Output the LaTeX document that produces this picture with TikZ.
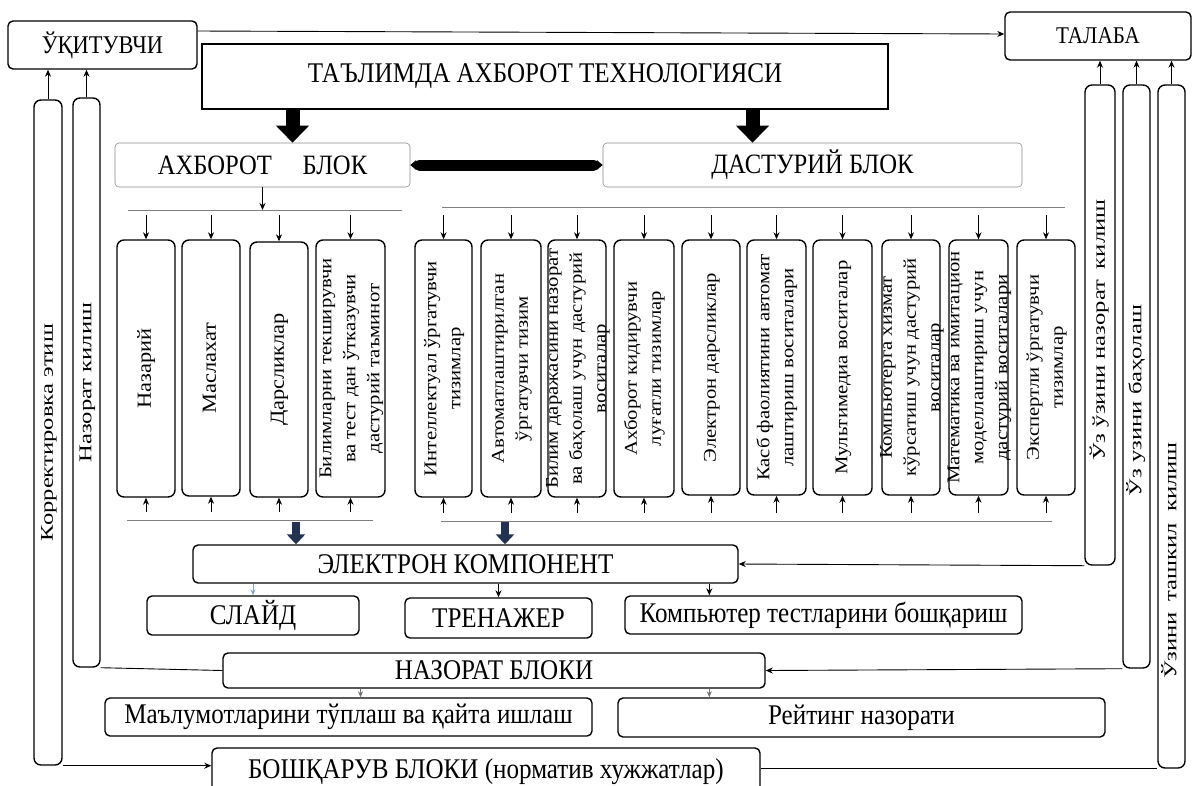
\documentclass[tikz,border=0pt]{standalone}
\usepackage{fontspec}
\setmainfont{Liberation Serif}
\newfontfamily\horfont[FakeStretch=0.88]{Liberation Serif}
\newfontfamily\vertfont[FakeStretch=1.15]{Liberation Serif}
\newfontfamily\vertbigfont[FakeStretch=1.12]{Liberation Serif}
\newfontfamily\sidefont[FakeStretch=1.37]{Liberation Serif}
\usepackage{graphicx}
\usetikzlibrary{arrows.meta,calc}
\definecolor{navyarr}{RGB}{35,50,80}
\definecolor{paleblue}{RGB}{140,165,200}
\newcommand\mkbox[7]{%
  \pgfmathsetmacro\mbW{#5-#3}%
  \pgfmathsetmacro\mbH{#6-#4}%
  \pgfmathsetmacro\mbX{(#3+#5)/2}%
  \pgfmathsetmacro\mbY{(#4+#6)/2}%
  \node[#1,minimum width=\mbW pt,minimum height=\mbH pt] (#2) at (\mbX,\mbY) {#7};}
\newcommand\vtext[2][0pt]{\makebox[0pt]{\raisebox{#1}[0pt][0pt]{\raisebox{-.5\height}{\rotatebox{90}{\begin{tabular}{@{}c@{}}#2\end{tabular}}}}}}
\tikzset{
  rbox/.style={draw,line width=1.4pt,rounded corners=5pt,inner sep=0pt,font=\horfont\fontsize{28.5}{30}\selectfont},
  gbox/.style={draw=black!45,line width=0.6pt,rounded corners=4pt,inner sep=0pt,font=\horfont\fontsize{28}{30}\selectfont},
  tbox/.style={draw,line width=2.2pt,inner sep=0pt,font=\horfont\fontsize{28.5}{30}\selectfont},
  vbox/.style={draw,line width=1.4pt,rounded corners=7pt,inner sep=0pt,font=\vertfont\fontsize{18}{24}\selectfont},
  vbigbox/.style={vbox,font=\vertbigfont\fontsize{20}{24}\selectfont},
  sidebox/.style={vbox,font=\sidefont\fontsize{18}{24}\selectfont},
  arr/.style={line width=0.9pt,-{Stealth[length=7pt,width=6pt]}},
  faint/.style={line width=0.8pt,draw=#1,-{Stealth[length=6pt,width=5pt]}},
  bus/.style={draw=black!50,line width=0.9pt},
  fat/.style={line width=14pt,-{Triangle[length=17pt,width=32pt]}},
  mid/.style={line width=8pt,draw=navyarr,-{Triangle[length=10pt,width=18pt]}},
  link/.style={line width=0.9pt}
}
\begin{document}
\begin{tikzpicture}[x=1pt,y=-1pt]
\useasboundingbox (0,0) rectangle (1193,785);
% top boxes
\mkbox{rbox,font=\horfont\fontsize{25.5}{28}\selectfont}{uk}{8}{21}{197}{69}{ЎҚИТУВЧИ}
\mkbox{rbox,font=\horfont\fontsize{24}{26}\selectfont}{tal}{1005}{12}{1191}{60}{ТАЛАБА}
\mkbox{tbox}{ti}{202}{44}{888}{109}{ТАЪЛИМДА АХБОРОТ ТЕХНОЛОГИЯСИ}
\mkbox{gbox}{ax}{115}{143}{410}{187}{АХБОРОТ\hspace{1.1em}БЛОК}
\mkbox{gbox}{ds}{603}{143}{1022}{187}{ДАСТУРИЙ БЛОК}
% left group
\mkbox{vbigbox}{L1}{117}{240}{175}{497}{\vtext{Назарий}}
\mkbox{vbigbox}{L2}{182}{240}{240}{496}{\vtext{Маслахат}}
\mkbox{vbigbox}{L3}{250}{242}{308}{497}{\vtext{Дарсликлар}}
\mkbox{vbox}{L4}{316}{240}{385}{497}{\vtext{Билимларни текширувчи\\ва тест дан ўтказувчи\\дастурий таъминот}}
% right group
\mkbox{vbox}{R1}{415}{240}{472}{497}{\vtext{Интеллектуал ўргатувчи\\тизимлар}}
\mkbox{vbox}{R2}{481}{240}{541}{497}{\vtext{Автоматлаштирилган\\ўргатувчи тизим}}
\mkbox{vbox}{R3}{548}{240}{606}{497}{\vtext{Билим даражасини назорат\\ва баҳолаш учун дастурий\\воситалар}}
\mkbox{vbox}{R4}{614}{240}{674}{497}{\vtext{Ахборот кидирувчи\\луғатли тизимлар}}
\mkbox{vbox}{R5}{682}{240}{740}{495}{\vtext{Электрон дарсликлар}}
\mkbox{vbox}{R6}{747}{240}{806}{495}{\vtext{Касб фаолиятини автомат\\лаштириш воситалари}}
\mkbox{vbox}{R7}{813}{240}{872}{495}{\vtext{Мультимедиа воситалар}}
\mkbox{vbox}{R8}{882}{240}{940}{495}{\vtext{Компьютерга хизмат\\кўрсатиш учун дастурий\\воситалар}}
\mkbox{vbox}{R9}{949}{240}{1008}{495}{\vtext{Математика ва имитацион\\моделлаштириш учун\\дастурий воситалари}}
\mkbox{vbox}{R10}{1017}{240}{1075}{495}{\vtext{Экспертли ўргатувчи\\тизимлар}}
% side boxes
\mkbox{sidebox}{kor}{34}{100}{62}{765}{\vtext{Корректировка этиш}}
\mkbox{sidebox}{nk}{73}{98}{100}{667}{\vtext{Назорат килиш}}
\mkbox{sidebox}{uz1}{1085}{85}{1115}{565}{\vtext[-5pt]{Ўз ўзини назорат\hspace{0.6em}килиш}}
\mkbox{sidebox}{uz2}{1123}{85}{1150}{668}{\vtext[-24pt]{Ўз узини баҳолаш}}
\mkbox{sidebox}{uz3}{1158}{85}{1185}{768}{\vtext[-134pt]{Ўзини\hspace{0.6em}ташкил\hspace{0.6em}килиш}}
% lower boxes
\mkbox{rbox}{el}{193}{545}{738}{583}{ЭЛЕКТРОН КОМПОНЕНТ}
\mkbox{rbox}{sl}{147}{596}{359}{635}{СЛАЙД}
\mkbox{rbox}{tr}{405}{598}{592}{638}{ТРЕНАЖЕР}
\mkbox{rbox}{kt}{625}{596}{1022}{634}{Компьютер тестларини бошқариш}
\mkbox{rbox}{nb}{223}{653}{765}{688}{НАЗОРАТ БЛОКИ}
\mkbox{rbox}{ml}{105}{698}{592}{736}{Маълумотларини тўплаш ва қайта ишлаш}
\mkbox{rbox}{rn}{618}{698}{1105}{737}{Рейтинг назорати}
\mkbox{rbox}{bb}{212}{748}{760}{796}{БОШҚАРУВ БЛОКИ (норматив хужжатлар)}
% bus coordinates
\coordinate (lt1) at (128,210); \coordinate (lt2) at (402,210);
\coordinate (rt1) at (442,207); \coordinate (rt2) at (1065,207);
\coordinate (lb1) at (127,520); \coordinate (lb2) at (373,520);
\coordinate (rb1) at (441,521); \coordinate (rb2) at (1052,521);
\coordinate (ta1) at (296,522); \coordinate (ta2) at (505,522);
\coordinate (kta) at ($(kt.north west)+(85,0)$);
\coordinate (mla) at ($(ml.north)+(12,0)$);
\coordinate (rna) at ($(rn.north west)+(92,0)$);
\coordinate (fa1) at ($(ax.north)+(30,0)$);
\coordinate (fa2) at ($(ds.north)+(-60,0)$);
\draw[bus] (lt1) -- (lt2);
\draw[bus] (rt1) -- (rt2);
\draw[bus] (lb1) -- (lb2);
\draw[bus] (rb1) -- (rb2);
% connectors top
\draw[arr] ([yshift=14pt]uk.east) -- ([yshift=2pt]tal.west);
\draw[arr] (kor.north) -- (kor.north |- uk.south);
\draw[arr] (nk.north) -- (nk.north |- uk.south);
\draw[arr] (uz1.north) -- (uz1.north |- tal.south);
\draw[arr] (uz2.north) -- (uz2.north |- tal.south);
\draw[arr] (uz3.north) -- (uz3.north |- tal.south);
\draw[fat] (fa1 |- ti.south) -- (fa1);
\draw[fat] (fa2 |- ti.south) -- (fa2);
\draw[line width=11pt,line cap=round,shorten <=9pt,shorten >=9pt] (ax.east) -- (ds.west);
\draw[line width=1pt,{Stealth[length=6pt,width=10pt]}-{Stealth[length=6pt,width=10pt]}] (ax.east) -- (ds.west);
\draw[arr] (ax.south) -- (ax.south |- lt1);
\foreach \n in {L1,L2,L3,L4}{
  \draw[arr] ($(\n.north |- lt1)+(0,5)$) -- (\n.north);
  \draw[arr] ($(\n.south |- lb1)+(0,-8)$) -- (\n.south);
}
\foreach \n in {R1,R2,R3,R4,R5,R6,R7,R8,R9,R10}{
  \draw[arr] ($(\n.north |- rt1)+(0,8)$) -- (\n.north);
  \draw[arr] ($(\n.south |- rb1)+(0,-8)$) -- (\n.south);
}
\draw[mid] (ta1) -- (ta1 |- el.north);
\draw[mid] (ta2) -- (ta2 |- el.north);
% lower connectors
\draw[arr] (uz1.south west) -- (el.east);
\draw[arr] (uz2.south west) -- (nb.east);
\draw[link] (bb.east |- uz3.south) -- (uz3.south west);
\draw[link] (nk.south east) -- (nb.west);
\draw[arr] (kor.south east) -- (bb.west |- kor.south east);
\draw[faint=paleblue] (sl.north |- el.south) -- (sl.north);
\draw[arr] (tr.north |- el.south) -- (tr.north);
\draw[arr] (kta |- el.south) -- (kta);
\draw[faint=black!55] (mla |- nb.south) -- (mla);
\draw[faint=black!55] (rna |- nb.south) -- (rna);
\end{tikzpicture}
\end{document}
